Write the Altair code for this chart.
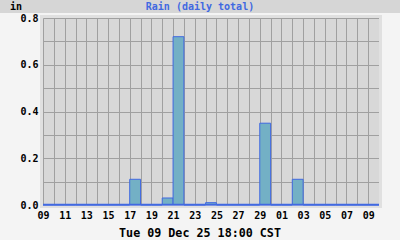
import altair as alt
import pandas as pd

# Daily rain totals, 09 Nov 2025 .. 09 Dec 2025 (inches)
start_day = "2025-11-09"
rain = [0, 0, 0, 0, 0, 0, 0, 0, 0.11, 0, 0, 0.03, 0.72, 0, 0, 0.01,
        0, 0, 0, 0, 0.35, 0, 0, 0.11, 0, 0, 0, 0, 0, 0, 0]

days = pd.date_range(start_day, periods=len(rain), freq="D")
df = pd.DataFrame({
    "start": days,
    "end": days + pd.Timedelta(days=1),
    "rain": rain,
})
one = pd.DataFrame({"a": [0]})

tick_days = list(pd.date_range(start_day, periods=len(rain) + 1, freq="D"))
tick_vals = [alt.DateTime(year=d.year, month=d.month, date=d.day, utc=True) for d in tick_days]
y_ticks = [0, 0.1, 0.2, 0.3, 0.4, 0.5, 0.6, 0.7, 0.8]

W, H = 336, 187
FONT = "DejaVu Sans Mono"

xscale = alt.Scale(domain=[tick_vals[0], tick_vals[-1]])
yscale = alt.Scale(domain=[0, 0.8], nice=False)

x_axis = alt.Axis(
    values=tick_vals, title=None, grid=True, gridColor="#a0a0a0", gridOpacity=1,
    domain=False, ticks=False, labelPadding=5,
    labelExpr="utcdate(datum.value) % 2 == 1 ? utcFormat(datum.value, '%d') : ''",
    labelFont=FONT, labelFontWeight="bold", labelFontSize=10, labelColor="black",
    labelOverlap=False, labelFlush=False,
)
y_axis = alt.Axis(
    values=y_ticks, title=None, grid=True, gridColor="#a0a0a0", gridOpacity=1,
    domain=False, ticks=False, labelPadding=5,
    labelExpr="round(datum.value*10) % 2 == 0 ? format(datum.value, '.1f') : ''",
    labelFont=FONT, labelFontWeight="bold", labelFontSize=10, labelColor="black",
    labelOverlap=False, labelFlush=False,
)

bars = alt.Chart(df).mark_rect(
    fill="#73b0c5", stroke="#4169e1", strokeWidth=1
).encode(
    x=alt.X("start:T", scale=xscale, axis=x_axis),
    x2="end:T",
    y=alt.Y("rain:Q", scale=yscale, axis=y_axis),
    y2=alt.datum(0),
)

base0 = alt.Chart(one).mark_rule(color="#4169e1", strokeWidth=1.5).encode(
    x=alt.value(0), x2=alt.value(W), y=alt.value(H - 0.5)
)

border = alt.Chart(one).mark_rect(
    fill="transparent", stroke="#e0e0e0", strokeWidth=3
).encode(x=alt.value(-1.5), x2=alt.value(W + 1.5), y=alt.value(-1.5), y2=alt.value(H + 1.5))

band = alt.Chart(one).mark_rect(fill="#d6d6d6").encode(
    x=alt.value(-43), x2=alt.value(357), y=alt.value(-18), y2=alt.value(-5)
)

unit_lbl = alt.Chart(one).mark_text(
    font=FONT, fontWeight="bold", fontSize=10, color="black", align="left", baseline="middle"
).encode(x=alt.value(-33), y=alt.value(-11.5), text=alt.value("in"))

title_lbl = alt.Chart(one).mark_text(
    font=FONT, fontWeight="bold", fontSize=10, color="#4169e1", align="center", baseline="middle"
).encode(x=alt.value(157), y=alt.value(-11.5), text=alt.value("Rain (daily total)"))

time_lbl = alt.Chart(one).mark_text(
    font=FONT, fontWeight="bold", fontSize=11.7, color="black", align="center", baseline="middle"
).encode(x=alt.value(157), y=alt.value(215), text=alt.value("Tue 09 Dec 25 18:00 CST"))

chart = alt.layer(band, border, bars, base0, unit_lbl, title_lbl, time_lbl).properties(
    width=W, height=H,
    padding={"left": 43, "top": 18, "right": 21, "bottom": 35},
    autosize=alt.AutoSizeParams(type="none"),
    background="#f4f4f4",
).configure_view(fill="#d8d8d8", stroke=None)

chart.save("out.html", embed_options={"renderer": "svg", "actions": False})
